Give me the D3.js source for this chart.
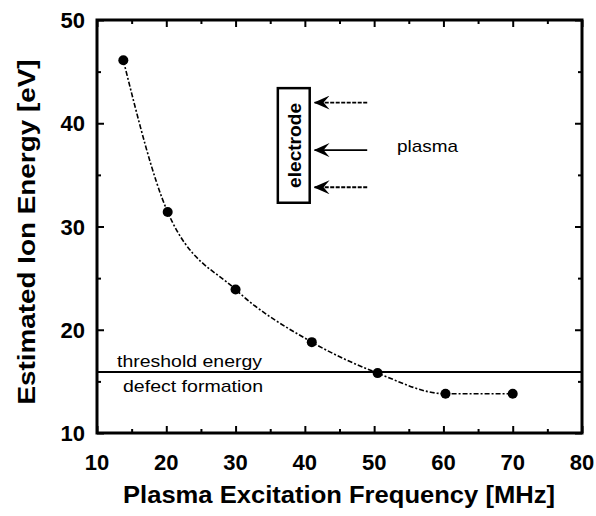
<!DOCTYPE html>
<meta charset="utf-8">
<style>
body { margin: 0; background: #fff; }
svg { display: block; }
text { font-family: "Liberation Sans", Arial, sans-serif; fill: #000; }
.tick-label { font-size: 22px; font-weight: bold; }
.title { font-size: 24px; font-weight: bold; }
.note { font-size: 17px; }
.axis path { display: none; }
.axis line { stroke: #000; stroke-width: 2; }
</style>
<body>
<script src="https://cdnjs.cloudflare.com/ajax/libs/d3/7.8.5/d3.min.js"></script>
<script>

// data
var freq = [13.8, 20.2, 30, 41, 50.5, 60.3, 70];
var energy = [46.1, 31.4, 23.9, 18.8, 15.8, 13.8, 13.8];
var threshold = 15.9;
var xTicks = [10, 20, 30, 40, 50, 60, 70, 80];
var yTicks = [10, 20, 30, 40, 50];
var xMinor = [15, 25, 35, 45, 55, 65, 75];
var yMinor = [15, 25, 35, 45];

// inset sketch (in data units)
var arrowY = [42.0, 37.4, 33.8];
var arrowFrom = 49, arrowTo = 41.4;
var electrodeBox = {x0: 36.1, x1: 40.7, y0: 32.3, y1: 43.4};

var W = 596, H = 516;
var margin = {top: 20, right: 14, bottom: 83, left: 97};

var svg = d3.select("body").append("svg")
    .attr("width", W)
    .attr("height", H);

var x = d3.scaleLinear().domain([10, 80]).range([margin.left, W - margin.right]);
var y = d3.scaleLinear().domain([10, 50]).range([H - margin.bottom, margin.top]);

var pts = freq.map(function(f, i) { return [f, energy[i]]; });

// inward ticks on all four sides (major + minor)
function addTicks(axisFn, scale, vals, len, tx, ty) {
  svg.append("g")
      .attr("class", "axis")
      .attr("transform", "translate(" + tx + "," + ty + ")")
      .call(axisFn(scale).tickValues(vals).tickSize(-len).tickFormat(""));
}
addTicks(d3.axisBottom, x, xTicks, 7, 0, y(10));
addTicks(d3.axisBottom, x, xMinor, 4, 0, y(10));
addTicks(d3.axisTop, x, xTicks, 7, 0, y(50));
addTicks(d3.axisTop, x, xMinor, 4, 0, y(50));
addTicks(d3.axisLeft, y, yTicks, 7, x(10), 0);
addTicks(d3.axisLeft, y, yMinor, 4, x(10), 0);
addTicks(d3.axisRight, y, yTicks, 7, x(80), 0);
addTicks(d3.axisRight, y, yMinor, 4, x(80), 0);

// frame
svg.append("rect")
    .attr("x", x(10)).attr("y", y(50))
    .attr("width", x(80) - x(10)).attr("height", y(10) - y(50))
    .attr("fill", "none").attr("stroke", "#000").attr("stroke-width", 3);

// tick labels
svg.selectAll(".xl").data(xTicks).enter().append("text")
    .attr("class", "tick-label")
    .attr("x", function(d) { return x(d); })
    .attr("y", y(10) + 37)
    .attr("text-anchor", "middle")
    .text(function(d) { return d; });

svg.selectAll(".yl").data(yTicks).enter().append("text")
    .attr("class", "tick-label")
    .attr("x", x(10) - 12)
    .attr("y", function(d) { return y(d) + 8; })
    .attr("text-anchor", "end")
    .text(function(d) { return d; });

// axis titles
svg.append("text")
    .attr("class", "title")
    .attr("x", 339).attr("y", 503)
    .attr("text-anchor", "middle")
    .attr("textLength", 432).attr("lengthAdjust", "spacingAndGlyphs")
    .text("Plasma Excitation Frequency [MHz]");

svg.append("text")
    .attr("class", "title")
    .attr("transform", "translate(35,232) rotate(-90)")
    .attr("text-anchor", "middle")
    .attr("textLength", 345).attr("lengthAdjust", "spacingAndGlyphs")
    .text("Estimated Ion Energy [eV]");

// threshold line
svg.append("line")
    .attr("x1", x(10)).attr("x2", x(80))
    .attr("y1", y(threshold)).attr("y2", y(threshold))
    .attr("stroke", "#000").attr("stroke-width", 2);

svg.append("text").attr("class", "note")
    .attr("x", 117).attr("y", y(threshold) - 5)
    .attr("textLength", 145).attr("lengthAdjust", "spacingAndGlyphs")
    .text("threshold energy");
svg.append("text").attr("class", "note")
    .attr("x", 123).attr("y", y(threshold) + 20)
    .attr("textLength", 140).attr("lengthAdjust", "spacingAndGlyphs")
    .text("defect formation");

// dashed curve
var line = d3.line()
    .x(function(d) { return x(d[0]); })
    .y(function(d) { return y(d[1]); })
    .curve(d3.curveMonotoneX);

svg.append("path")
    .datum(pts)
    .attr("d", line)
    .attr("fill", "none")
    .attr("stroke", "#000")
    .attr("stroke-width", 1.6)
    .attr("stroke-dasharray", "5,2,2,2");

svg.selectAll(".pt").data(pts).enter().append("circle")
    .attr("cx", function(d) { return x(d[0]); })
    .attr("cy", function(d) { return y(d[1]); })
    .attr("r", 5)
    .attr("fill", "#000");

// inset: electrode and plasma arrows
svg.append("defs").append("marker")
    .attr("id", "head")
    .attr("viewBox", "0 0 16 14")
    .attr("refX", 15).attr("refY", 7)
    .attr("markerWidth", 16).attr("markerHeight", 14)
    .attr("markerUnits", "userSpaceOnUse")
    .attr("orient", "auto")
  .append("path")
    .attr("d", "M16,7 L0,0 L6,7 L0,14 Z")
    .attr("fill", "#000");

arrowY.forEach(function(v, i) {
  svg.append("line")
      .attr("x1", x(arrowFrom)).attr("x2", x(arrowTo))
      .attr("y1", y(v)).attr("y2", y(v))
      .attr("stroke", "#000")
      .attr("stroke-width", 1.8)
      .attr("stroke-dasharray", i == 1 ? null : "4,1.5")
      .attr("marker-end", "url(#head)");
});

svg.append("rect")
    .attr("x", x(electrodeBox.x0)).attr("y", y(electrodeBox.y1))
    .attr("width", x(electrodeBox.x1) - x(electrodeBox.x0))
    .attr("height", y(electrodeBox.y0) - y(electrodeBox.y1))
    .attr("fill", "#fff").attr("stroke", "#000").attr("stroke-width", 2.5);

svg.append("text").attr("class", "note")
    .attr("transform", "translate(" + (x((electrodeBox.x0 + electrodeBox.x1) / 2) + 7) + "," + y((electrodeBox.y0 + electrodeBox.y1) / 2) + ") rotate(-90)")
    .attr("text-anchor", "middle")
    .style("font-size", "19px")
    .style("font-weight", "bold")
    .attr("textLength", 85).attr("lengthAdjust", "spacingAndGlyphs")
    .text("electrode");

svg.append("text").attr("class", "note")
    .attr("x", 397).attr("y", 152)
    .attr("textLength", 61).attr("lengthAdjust", "spacingAndGlyphs")
    .text("plasma");

</script>
</body>
